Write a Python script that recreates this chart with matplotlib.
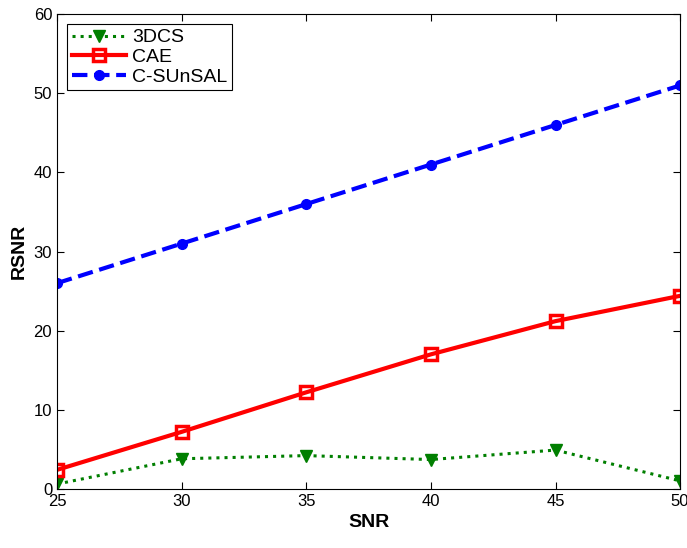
import matplotlib
matplotlib.use("Agg")
from matplotlib import pyplot as plt

plt.rcParams['font.family'] = ['Liberation Sans', 'DejaVu Sans']

snr = [25, 30, 35, 40, 45, 50]
rsnr_3dcs = [0.6, 3.8, 4.2, 3.7, 4.9, 1.0]
rsnr_cae = [2.4, 7.2, 12.2, 17.0, 21.2, 24.4]
rsnr_csunsal = [26, 31, 36, 41, 46, 51]

fig = plt.figure(figsize=(6.87, 5.48), dpi=100)
ax = fig.add_axes([0.083, 0.108, 0.907, 0.866])

ax.plot(snr, rsnr_3dcs, ':', color='#007f00', lw=2.2, marker='v', ms=9,
        mfc='#007f00', mec='#007f00', label='3DCS')
ax.plot(snr, rsnr_cae, '-', color='#ff0000', lw=3, marker='s', ms=8,
        mfc='none', mec='#ff0000', mew=2.5, label='CAE')
ax.plot(snr, rsnr_csunsal, '--', color='#0000ff', lw=3, marker='o', ms=7,
        mfc='#0000ff', mec='#0000ff', label='C-SUnSAL')

ax.set_xlim(25, 50)
ax.set_ylim(0, 60)
ax.set_xticks(snr)
ax.set_yticks(range(0, 61, 10))
ax.tick_params(direction='in', labelsize=12, length=5, top=True, right=True)
ax.set_xlabel('SNR', fontsize=14, fontweight='bold')
ax.set_ylabel('RSNR', fontsize=14, fontweight='bold')

leg = ax.legend(loc='upper left', fontsize=14, fancybox=False, framealpha=1,
                edgecolor='black', handlelength=2.8, borderpad=0.25,
                labelspacing=0.1, handletextpad=0.3)
leg.get_frame().set_linewidth(0.8)

fig.savefig('out.png', dpi=100)
